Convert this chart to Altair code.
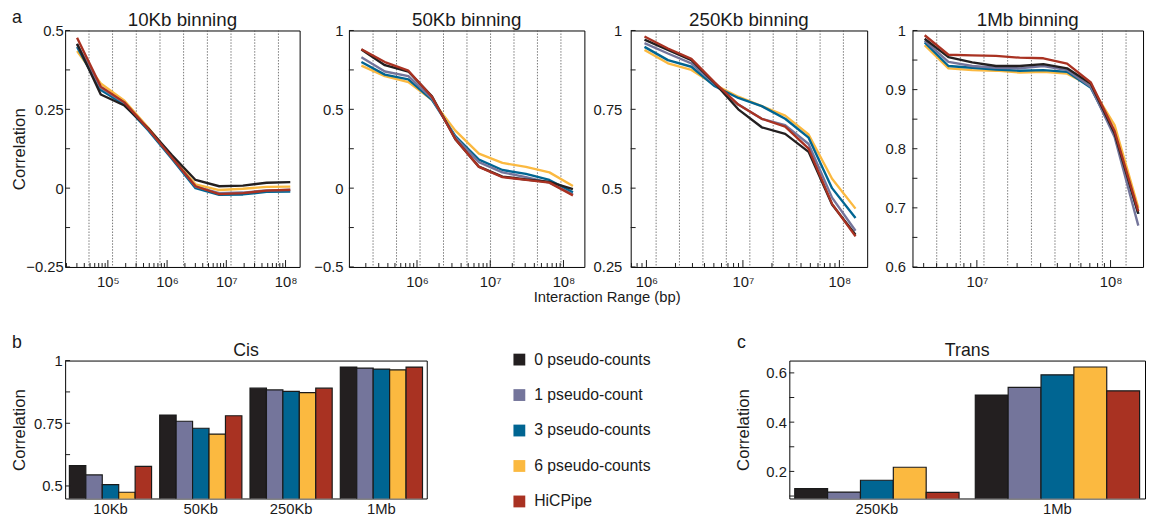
import altair as alt
import pandas as pd

FONT = "Liberation Sans"
INK = "#1a1a1a"

SERIES = ["0 pseudo-counts", "1 pseudo-count", "3 pseudo-counts", "6 pseudo-counts", "HiCPipe"]
COLORS = ["#231f20", "#74759b", "#006592", "#fbb940", "#a93222"]
DRAW_ORDER = ["6 pseudo-counts", "3 pseudo-counts", "1 pseudo-count", "0 pseudo-counts", "HiCPipe"]

# ---------------- panel a : correlation vs interaction range ----------------
X_10KB = [30200, 75900, 190500, 478600, 1202000, 3020000, 7590000, 19050000, 47860000, 120200000]
Y_10KB = {
    "0 pseudo-counts": [0.458, 0.297, 0.262, 0.190, 0.105, 0.026, 0.006, 0.008, 0.017, 0.019],
    "1 pseudo-count": [0.456, 0.318, 0.270, 0.188, 0.098, 0.005, -0.016, -0.014, -0.007, -0.006],
    "3 pseudo-counts": [0.448, 0.311, 0.265, 0.184, 0.093, 0.000, -0.021, -0.020, -0.012, -0.011],
    "6 pseudo-counts": [0.435, 0.332, 0.277, 0.192, 0.100, 0.012, -0.006, -0.002, 0.004, 0.005],
    "HiCPipe": [0.477, 0.322, 0.272, 0.188, 0.097, 0.006, -0.019, -0.016, -0.008, -0.005],
}
GRID_10KB = [48000, 120000, 302000, 759000, 1900000, 4790000, 12000000, 30200000, 75900000]
XDOM_10KB = [19000, 173000000]

X_50KB = [174000, 364000, 762000, 1600000, 3340000, 7000000, 14660000, 30690000, 64270000, 134600000]
Y_50KB = {
    "0 pseudo-counts": [0.879, 0.780, 0.740, 0.583, 0.310, 0.136, 0.073, 0.055, 0.040, -0.006],
    "1 pseudo-count": [0.830, 0.740, 0.710, 0.570, 0.320, 0.165, 0.100, 0.070, 0.035, -0.040],
    "3 pseudo-counts": [0.800, 0.720, 0.690, 0.560, 0.330, 0.181, 0.115, 0.090, 0.052, -0.027],
    "6 pseudo-counts": [0.777, 0.710, 0.673, 0.560, 0.365, 0.219, 0.160, 0.135, 0.100, 0.014],
    "HiCPipe": [0.881, 0.800, 0.745, 0.580, 0.310, 0.135, 0.070, 0.052, 0.035, -0.046],
}
GRID_50KB = [251000, 525000, 1100000, 2300000, 4810000, 10100000, 21100000, 44100000, 92300000]
XDOM_50KB = [117500, 193000000]

X_250KB = [955000, 1671000, 2924000, 5117000, 8954000, 15670000, 27420000, 47970000, 83950000, 146900000]
Y_250KB = {
    "0 pseudo-counts": [0.971, 0.938, 0.906, 0.833, 0.750, 0.693, 0.672, 0.615, 0.448, 0.352],
    "1 pseudo-count": [0.960, 0.927, 0.896, 0.830, 0.765, 0.720, 0.700, 0.640, 0.470, 0.365],
    "3 pseudo-counts": [0.948, 0.906, 0.885, 0.823, 0.786, 0.760, 0.720, 0.660, 0.500, 0.405],
    "6 pseudo-counts": [0.938, 0.896, 0.875, 0.828, 0.790, 0.760, 0.730, 0.670, 0.530, 0.435],
    "HiCPipe": [0.981, 0.943, 0.910, 0.835, 0.765, 0.720, 0.695, 0.625, 0.450, 0.347],
}
GRID_250KB = [1260000, 2200000, 3850000, 6730000, 11800000, 20600000, 36100000, 63100000, 110000000]
XDOM_250KB = [687000, 194000000]

X_1MB = [4070000, 6130000, 9230000, 13890000, 20890000, 31440000, 47320000, 71230000, 107200000, 161300000]
Y_1MB = {
    "0 pseudo-counts": [0.986, 0.955, 0.946, 0.940, 0.940, 0.943, 0.936, 0.910, 0.826, 0.690],
    "1 pseudo-count": [0.983, 0.947, 0.940, 0.937, 0.936, 0.940, 0.933, 0.905, 0.820, 0.670],
    "3 pseudo-counts": [0.980, 0.940, 0.937, 0.934, 0.932, 0.933, 0.930, 0.903, 0.825, 0.690],
    "6 pseudo-counts": [0.975, 0.936, 0.933, 0.932, 0.929, 0.930, 0.927, 0.906, 0.840, 0.700],
    "HiCPipe": [0.992, 0.959, 0.958, 0.957, 0.954, 0.953, 0.944, 0.912, 0.830, 0.694],
}
GRID_1MB = [5010000, 7530000, 11300000, 17000000, 25600000, 38400000, 57800000, 86900000, 130600000]
XDOM_1MB = [3300000, 175000000]

# ---------------- panels b, c : bars ----------------
CIS_GROUPS = ["10Kb", "50Kb", "250Kb", "1Mb"]
CIS = {
    "0 pseudo-counts": [0.581, 0.783, 0.890, 0.974],
    "1 pseudo-count": [0.544, 0.758, 0.883, 0.970],
    "3 pseudo-counts": [0.505, 0.730, 0.877, 0.966],
    "6 pseudo-counts": [0.475, 0.707, 0.872, 0.963],
    "HiCPipe": [0.578, 0.780, 0.890, 0.974],
}
TRANS_GROUPS = ["250Kb", "1Mb"]
TRANS = {
    "0 pseudo-counts": [0.130, 0.510],
    "1 pseudo-count": [0.116, 0.541],
    "3 pseudo-counts": [0.164, 0.592],
    "6 pseudo-counts": [0.217, 0.624],
    "HiCPipe": [0.115, 0.527],
}

COLOR_SCALE = alt.Scale(domain=SERIES, range=COLORS)
MINUS_EXPR = "datum.value < 0 ? '\u2212' + (-datum.value) : '' + datum.value"
SUP_EXPR = "'10' + ['\u2070','\u00b9','\u00b2','\u00b3','\u2074','\u2075','\u2076','\u2077','\u2078','\u2079'][round(log(datum.value) / LN10)]"


def log_ticks(lo, hi, majors):
    out = []
    for e in range(3, 10):
        for m in range(1, 10):
            v = m * 10 ** e
            if lo <= v <= hi and ((m == 1) == majors):
                out.append(v)
    return out


def label(txt, dx, dy, size=18, align="left"):
    return alt.Chart(pd.DataFrame({"t": [txt]})).mark_text(
        font=FONT, fontSize=size, align=align, baseline="alphabetic", color=INK
    ).encode(text="t:N", x=alt.value(dx), y=alt.value(dy))


def y_ticks_layer(ticks, ysc, yaxis):
    return alt.Chart(pd.DataFrame({"t": ticks})).mark_rule(color=INK, strokeWidth=1).encode(
        y=alt.Y("t:Q", scale=ysc, axis=yaxis), x=alt.value(0), x2=alt.value(5)
    )


def line_panel(title, xs, ys, grid, xdom, ydom, yticks, ylabels, xlabels, W, lpad, H=240,
               ytitle=None, extras=()):
    xsc = alt.Scale(type="log", domain=xdom, nice=False)
    ysc = alt.Scale(domain=ydom, nice=False, zero=False)
    rows = []
    for s in DRAW_ORDER:
        for x, y in zip(xs, ys[s]):
            rows.append({"x": x, "y": y, "series": s})
    xaxis = alt.Axis(values=xlabels, labelExpr=SUP_EXPR, ticks=False, domain=False, grid=False,
                     title=None, labelFontSize=15, labelPadding=8, labelFlush=False)
    if ytitle:
        yaxis = alt.Axis(values=ylabels, labelExpr=MINUS_EXPR, ticks=False, domain=False, grid=False,
                         labelFontSize=15, labelPadding=lpad, labelFlush=False,
                         title=ytitle, titleFontSize=17, titleFontWeight="normal",
                         titleX=-41, titleY=H / 2, titleBaseline="alphabetic", titleAngle=270)
    else:
        yaxis = alt.Axis(values=ylabels, labelExpr=MINUS_EXPR, ticks=False, domain=False, grid=False,
                         labelFontSize=15, labelPadding=lpad, labelFlush=False, title=None)
    grid_layer = alt.Chart(pd.DataFrame({"g": grid})).mark_rule(
        color="#555555", strokeWidth=0.8, strokeDash=[1.5, 1.5]
    ).encode(x=alt.X("g:Q", scale=xsc, axis=xaxis))
    lines = alt.Chart(pd.DataFrame(rows)).mark_line(strokeWidth=2.4, strokeJoin="round").encode(
        x=alt.X("x:Q", scale=xsc, axis=xaxis),
        y=alt.Y("y:Q", scale=ysc, axis=yaxis),
        color=alt.Color("series:N", scale=COLOR_SCALE, legend=None),
    )
    xmaj = alt.Chart(pd.DataFrame({"t": log_ticks(xdom[0], xdom[1], True)})).mark_rule(
        color=INK, strokeWidth=1
    ).encode(x=alt.X("t:Q", scale=xsc, axis=xaxis), y=alt.value(H), y2=alt.value(H - 7))
    xmin = alt.Chart(pd.DataFrame({"t": log_ticks(xdom[0], xdom[1], False)})).mark_rule(
        color=INK, strokeWidth=1
    ).encode(x=alt.X("t:Q", scale=xsc, axis=xaxis), y=alt.value(H), y2=alt.value(H - 4))
    layers = [grid_layer, lines, y_ticks_layer(yticks, ysc, yaxis), xmaj, xmin,
              label(title, W / 2, -5, 19, "center")] + list(extras)
    return alt.layer(*layers).properties(width=W, height=H)


def bar_panel(title, groups, vals, ydom, yticks, ylabels, W, pin, pout, legend=None, extras=(), H=140):
    ysc = alt.Scale(domain=ydom, nice=False, zero=False)
    rows = [{"g": g, "series": s, "v": v} for s in SERIES for g, v in zip(groups, vals[s])]
    yaxis = alt.Axis(values=ylabels, ticks=False, domain=False, grid=False, labelFontSize=15,
                     labelPadding=3, labelExpr="'' + datum.value", labelFlush=False,
                     title="Correlation", titleFontSize=17, titleFontWeight="normal",
                     titleX=-41, titleY=H / 2, titleBaseline="alphabetic", titleAngle=270)
    bars = alt.Chart(pd.DataFrame(rows)).mark_bar(stroke=INK, strokeWidth=1.2, clip=True).encode(
        x=alt.X("g:N", sort=groups, scale=alt.Scale(paddingInner=pin, paddingOuter=pout),
                axis=alt.Axis(title=None, labelAngle=0, ticks=False, domain=False,
                              labelFontSize=15, labelPadding=3)),
        xOffset=alt.XOffset("series:N", scale=alt.Scale(domain=SERIES, paddingInner=0, paddingOuter=0)),
        y=alt.Y("v:Q", scale=ysc, axis=yaxis),
        color=alt.Color("series:N", scale=COLOR_SCALE, legend=legend),
    )
    layers = [bars, y_ticks_layer(yticks, ysc, yaxis), label(title, W / 2, -5, 18, "center")] + list(extras)
    return alt.layer(*layers).properties(width=W, height=H)


p1 = line_panel("10Kb binning", X_10KB, Y_10KB, GRID_10KB, XDOM_10KB, [-0.25, 0.5],
                [-0.25, -0.125, 0, 0.125, 0.25, 0.375, 0.5], [-0.25, 0, 0.25, 0.5],
                [1e5, 1e6, 1e7, 1e8], 238, 2, ytitle="Correlation", extras=[label("a", -54, -8)])
p2 = line_panel("50Kb binning", X_50KB, Y_50KB, GRID_50KB, XDOM_50KB, [-0.5, 1],
                [-0.5, -0.25, 0, 0.25, 0.5, 0.75, 1], [-0.5, 0, 0.5, 1],
                [1e6, 1e7, 1e8], 239, 6)
p3 = line_panel("250Kb binning", X_250KB, Y_250KB, GRID_250KB, XDOM_250KB, [0.25, 1],
                [0.25, 0.375, 0.5, 0.625, 0.75, 0.875, 1], [0.25, 0.5, 0.75, 1],
                [1e6, 1e7, 1e8], 240, 9)
p4 = line_panel("1Mb binning", X_1MB, Y_1MB, GRID_1MB, XDOM_1MB, [0.6, 1],
                [0.6, 0.65, 0.7, 0.75, 0.8, 0.85, 0.9, 0.95, 1], [0.6, 0.7, 0.8, 0.9, 1],
                [1e7, 1e8], 234, 7)

legend = alt.Legend(orient="none", legendX=453, legendY=-9, title=None, symbolType="square",
                    symbolSize=144, symbolStrokeWidth=0, labelFontSize=16, labelFont=FONT,
                    labelColor=INK, labelOffset=7, rowPadding=20, padding=0)

cis = bar_panel("Cis", CIS_GROUPS, CIS, [0.45, 1.0], [0.5, 0.625, 0.75, 0.875, 1], [0.5, 0.75, 1],
                367, 0.09, 0.047, legend=legend, extras=[label("b", -54, -13)])
trans = bar_panel("Trans", TRANS_GROUPS, TRANS, [0.09, 0.65], [0.1, 0.2, 0.3, 0.4, 0.5, 0.6],
                  [0.2, 0.4, 0.6], 361, 0.09, 0.03, extras=[label("c", -53, -13)])

right3 = alt.hconcat(p3, p4, spacing=16)
right23 = alt.hconcat(p2, right3, spacing=7)
row1 = alt.hconcat(p1, right23, spacing=12).properties(
    title=alt.Title("Interaction Range (bp)", orient="bottom", anchor="start", dx=531, offset=0,
                    fontSize=15, fontWeight="normal", font=FONT, color=INK)
)
row2 = alt.hconcat(cis, trans, spacing=83).resolve_scale(
    color="independent", xOffset="independent").resolve_legend(color="independent")

chart = alt.vconcat(row1, row2, spacing=28).resolve_scale(
    color="independent", xOffset="independent").resolve_legend(color="independent").properties(
    padding={"left": 2, "top": -4, "right": 0, "bottom": 0}
).configure_view(stroke="black", strokeWidth=1).configure_axis(
    labelFont=FONT, titleFont=FONT, labelColor=INK, titleColor=INK
).configure_text(font=FONT)

chart.save("out.html", embed_options={"renderer": "svg", "actions": False})
